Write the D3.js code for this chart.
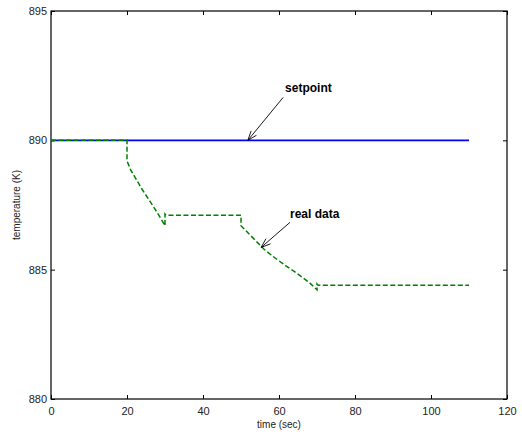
<!DOCTYPE html>
<html><head><meta charset="utf-8">
<script src="https://cdn.jsdelivr.net/npm/d3@7"></script>
<style>body{margin:0;background:#fff}svg{display:block}text{font-family:"Liberation Sans",Arial,Helvetica,sans-serif}</style>
</head><body>
<script>
const xTicks=[0,20,40,60,80,100,120];
const yTicks=[880,885,890,895];
const setpointT=[0,110];
const setpointV=[890,890];
const realT=[0,20,20,21,22,24,26,28,30,30,30.3,50,50,52,54,56,58,60,62,64,66,68,70,70,70.3,110];
const realV=[890,890,889.2,888.85,888.6,888.1,887.65,887.2,886.7,887.15,887.1,887.1,886.7,886.4,886.1,885.8,885.56,885.34,885.13,884.93,884.72,884.5,884.22,884.45,884.4,884.4];
const labels=["setpoint","real data"];
const labelPos=[[61.6,891.86],[62.9,887.0]];
const arrowFrom=[[61.1,891.66],[62.9,886.83]];
const arrowTo=[[51.8,890.0],[55.3,885.86]];

const W=522,H=436,L=51,R=507,T=11,B=399;
const svg=d3.select("body").append("svg").attr("width",W).attr("height",H);
const x=d3.scaleLinear().domain([0,120]).range([L,R]);
const y=d3.scaleLinear().domain([880,895]).range([B,T]);

// axes
const fs="11px";
const gx=svg.append("g").attr("transform",`translate(0,${B})`)
  .call(d3.axisBottom(x).tickValues(xTicks).tickSizeInner(-4).tickSizeOuter(0).tickPadding(8));
const gy=svg.append("g").attr("transform",`translate(${L},0)`)
  .call(d3.axisLeft(y).tickValues(yTicks).tickSizeInner(-4).tickSizeOuter(0).tickPadding(4));
const gx2=svg.append("g").attr("transform",`translate(0,${T})`)
  .call(d3.axisTop(x).tickValues(xTicks).tickSizeInner(-4).tickSizeOuter(0).tickFormat(""));
const gy2=svg.append("g").attr("transform",`translate(${R},0)`)
  .call(d3.axisRight(y).tickValues(yTicks).tickSizeInner(-4).tickSizeOuter(0).tickFormat(""));
[gx,gy,gx2,gy2].forEach(g=>{g.select(".domain").remove();g.selectAll("line").attr("stroke","#000");
  g.selectAll("text").attr("font-size",fs).attr("fill","#222").attr("font-family",'"Liberation Sans",Arial,sans-serif');});
svg.append("rect").attr("x",L).attr("y",T).attr("width",R-L).attr("height",B-T)
  .attr("fill","none").attr("stroke","#000").attr("stroke-width",1.2);

// lines
const line=d3.line().x(d=>x(d[0])).y(d=>y(d[1]));
svg.append("path").datum(setpointT.map((t,i)=>[t,setpointV[i]])).attr("d",line)
  .attr("fill","none").attr("stroke","#0000ff").attr("stroke-width",1.8);
svg.append("path").datum(realT.map((t,i)=>[t,realV[i]])).attr("d",line)
  .attr("fill","none").attr("stroke","#008000").attr("stroke-width",1.5).attr("stroke-dasharray","5,2.5");

// annotations
labels.forEach((s,i)=>{
  svg.append("text").attr("x",x(labelPos[i][0])).attr("y",y(labelPos[i][1]))
    .attr("font-size","12px").attr("font-weight","bold").attr("fill","#000").text(s);
  const x1=x(arrowFrom[i][0]),y1=y(arrowFrom[i][1]),x2=x(arrowTo[i][0]),y2=y(arrowTo[i][1]);
  svg.append("line").attr("x1",x1).attr("y1",y1).attr("x2",x2).attr("y2",y2).attr("stroke","#000").attr("stroke-width",0.9);
  const a=Math.atan2(y1-y2,x1-x2),len=10,sp=0.35;
  const p1=[x2+len*Math.cos(a+sp),y2+len*Math.sin(a+sp)],p2=[x2+len*Math.cos(a-sp),y2+len*Math.sin(a-sp)];
  svg.append("path").attr("d",`M${p1}L${x2},${y2}L${p2}`).attr("fill","none").attr("stroke","#000").attr("stroke-width",0.9);
});

// axis labels
svg.append("text").attr("x",(L+R)/2).attr("y",428).attr("text-anchor","middle").attr("font-size","10px").attr("fill","#222").text("time (sec)");
svg.append("text").attr("transform",`translate(20,${(T+B)/2}) rotate(-90)`).attr("text-anchor","middle").attr("font-size","10px").attr("fill","#222").text("temperature (K)");
</script>
</body></html>
